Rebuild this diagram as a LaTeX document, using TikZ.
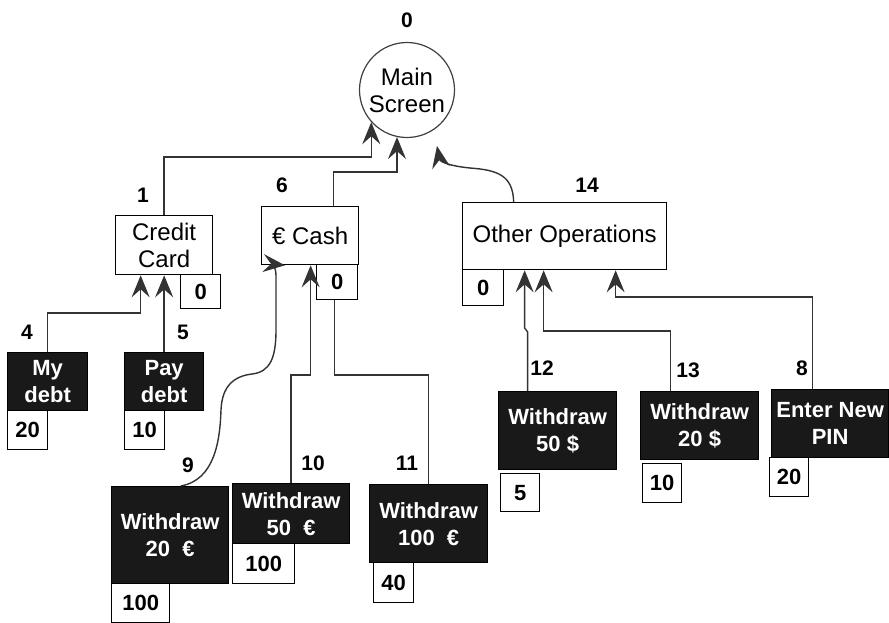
\documentclass[tikz,border=0pt]{standalone}
\usepackage{fontspec}
\setmainfont{Liberation Sans}
\usetikzlibrary{arrows.meta}
\begin{document}
\begin{tikzpicture}[x=1pt,y=-1pt,
  >={Stealth[length=22pt,width=18pt,inset=8pt]},
  box/.style={draw=black, line width=1.3pt, anchor=north west, inner sep=0pt, align=center, font=\fontsize{24}{27}\selectfont},
  wbox/.style={box, fill=white},
  bbox/.style={box, fill=black!90, text=white, font=\fontsize{22}{27}\selectfont\bfseries},
  numbox/.style={box, fill=white, font=\fontsize{22}{25}\selectfont\bfseries},
  lbl/.style={font=\fontsize{21}{24}\selectfont\bfseries, inner sep=0pt},
  con/.style={draw=black!80, line width=1.4pt},
  arr/.style={con, ->}
]
\useasboundingbox (0,0) rectangle (889,622);
\fill[white] (0,0) rectangle (889,622);

% main screen
\node[circle, draw=black!75, line width=1.2pt, minimum size=95pt, inner sep=0pt, align=center, font=\fontsize{24}{27}\selectfont] (ms) at (407,90) {Main\\Screen};
\node[lbl] (l0) at (407,20) {0};

% level 1
\node[wbox, minimum width=97pt, minimum height=59pt] (cc) at (115,215) {Credit\\Card};
\node[lbl] (l1) at (143,195) {1};
\node[numbox, minimum width=40pt, minimum height=34pt] (n1) at (180,274) {0};

\node[wbox, minimum width=97pt, minimum height=58pt] (cash) at (261,206) {€ Cash};
\node[lbl] (l6) at (282,185) {6};
\node[numbox, minimum width=41pt, minimum height=35pt] (n6) at (316,264) {0};

\node[wbox, minimum width=204pt, minimum height=67pt] (oo) at (462,202) {Other Operations};
\node[lbl] (l14) at (587,185) {14};
\node[numbox, minimum width=41pt, minimum height=36pt] (n14) at (462,269) {0};

% leaves
\node[bbox, minimum width=80pt, minimum height=58pt] (md) at (7,352) {My\\debt};
\node[lbl] (l4) at (27,332) {4};
\node[numbox, minimum width=40pt, minimum height=39pt] (n4) at (7,410) {20};

\node[bbox, minimum width=79pt, minimum height=58pt] (pd) at (124,352) {Pay\\debt};
\node[lbl] (l5) at (183,332) {5};
\node[numbox, minimum width=40pt, minimum height=39pt] (n5) at (124,410) {10};

\node[bbox, minimum width=117pt, minimum height=97pt] (w20e) at (111,486) {Withdraw\\20 \ €};
\node[lbl] (l9) at (188,465) {9};
\node[numbox, minimum width=58pt, minimum height=39pt] (n9) at (111,583) {100};

\node[bbox, minimum width=117pt, minimum height=60pt] (w50e) at (232,483) {Withdraw\\50 \ €};
\node[lbl] (l10) at (313,463) {10};
\node[numbox, minimum width=62pt, minimum height=40pt] (n10) at (232,543) {100};

\node[bbox, minimum width=118pt, minimum height=78pt] (w100e) at (369,484) {Withdraw\\100 \ €};
\node[lbl] (l11) at (407,463) {11};
\node[numbox, minimum width=40pt, minimum height=40pt] (n11) at (373,562) {40};

\node[bbox, minimum width=118pt, minimum height=78pt] (w50d) at (498,391) {Withdraw\\50 \$};
\node[lbl] (l12) at (542,368) {12};
\node[numbox, minimum width=39pt, minimum height=38pt] (n12) at (500,473) {5};

\node[bbox, minimum width=118pt, minimum height=68pt] (w20d) at (640,391) {Withdraw\\20 \$};
\node[lbl] (l13) at (688,370) {13};
\node[numbox, minimum width=39pt, minimum height=39pt] (n13) at (642,463) {10};

\node[bbox, minimum width=117pt, minimum height=68pt] (pin) at (771,389) {Enter New\\PIN};
\node[lbl] (l8) at (802,368) {8};
\node[numbox, minimum width=39pt, minimum height=39pt] (n8) at (769,457) {20};

% connectors to main screen
\coordinate (msr) at (437,146);
\draw[arr] (cc.north) -- ++(0,-58) -| (ms.222);
\draw[arr] ([xshift=23.5pt]cash.north) -- ++(0,-34) -| (ms.258);
\draw[arr] ([xshift=-51pt]oo.north) .. controls (513,175) and (497,170) .. (470,168) .. controls (450,166) and (440,162) .. (msr);

% connectors to credit card
\draw[arr] (md.north) -- ++(0,-39) -| ([xshift=-23.5pt]cc.south);
\draw[arr] (pd.north) -- (cc.south);

% connectors to cash
\coordinate (cashin) at ([xshift=24pt]cash.south west);
\draw[arr] ([xshift=10.5pt]w20e.north) .. controls (215,480) and (220,440) .. (221,410) .. controls (222,385) and (235,376) .. (252,374) .. controls (270,372) and (276,358) .. (276,330) -- (276,276) .. controls (276,266) and (272,264) .. (cashin);
\draw[arr] (w50e.north) -- ++(0,-108) -| ([xshift=0.5pt]cash.south);
\draw[con] (w100e.north) -- ++(0,-109) -| ([xshift=-2.5pt]n6.south);

% connectors to other operations
\draw[arr] ([xshift=-30pt]w50d.north) -- ++(0,-59) -- ++(-3,-4) -- ([xshift=-40pt]oo.south);
\draw[arr] ([xshift=-29pt]w20d.north) -- ++(0,-60) -| ([xshift=-21pt]oo.south);
\draw[arr] ([xshift=-17.5pt]pin.north) -- ++(0,-92) -| ([xshift=51pt]oo.south);
\end{tikzpicture}
\end{document}
